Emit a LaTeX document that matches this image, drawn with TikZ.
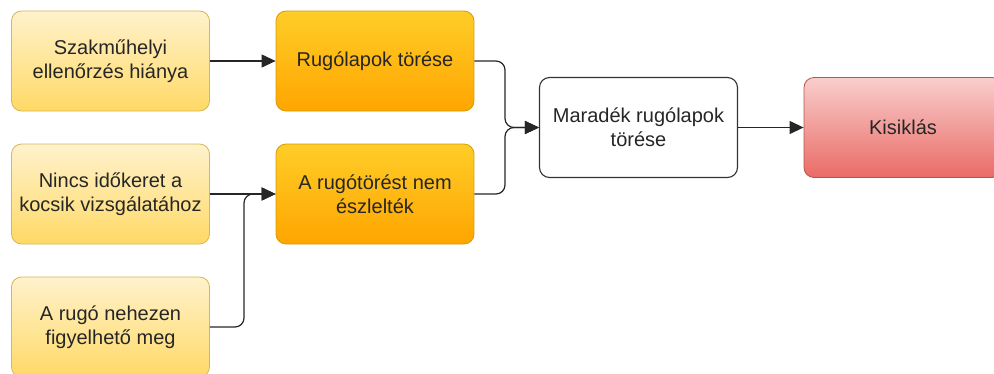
\documentclass[tikz,border=0pt]{standalone}
\usepackage{fontspec}
\setmainfont{Liberation Sans}
\usetikzlibrary{arrows.meta}
\definecolor{ylTop}{HTML}{FFF2CC}
\definecolor{ylBot}{HTML}{FFD966}
\definecolor{ylLine}{HTML}{D6B656}
\definecolor{orTop}{HTML}{FFCD28}
\definecolor{orBot}{HTML}{FFA500}
\definecolor{orLine}{HTML}{D79B00}
\definecolor{rdTop}{HTML}{F8CECC}
\definecolor{rdBot}{HTML}{EA6B66}
\definecolor{rdLine}{HTML}{B85450}
\tikzset{
  box/.style={rectangle, rounded corners=10pt, minimum width=198pt, minimum height=100pt,
    align=center, font=\fontsize{20pt}{24pt}\selectfont, text=black!85, line width=0.8pt, inner sep=2pt},
  cause/.style={box, draw=ylLine, top color=ylTop, bottom color=ylBot},
  mid/.style={box, draw=orLine, top color=orTop, bottom color=orBot},
  plain/.style={box, draw=black!80, fill=white, line width=1.1pt},
  result/.style={box, draw=rdLine, top color=rdTop, bottom color=rdBot},
  conn/.style={line width=1.2pt, black!85, rounded corners=9pt, -{Triangle[length=14pt,width=13pt]}}
}
\begin{document}
\begin{tikzpicture}[x=1pt,y=-1pt]
\useasboundingbox (0,0) rectangle (994,373);
\begin{scope}
\clip (0,0) rectangle (994,373);
\node[cause] (s1) at (110.5,61) {Szakműhelyi\\ellenőrzés hiánya};
\node[cause] (s2) at (110.5,194) {Nincs időkeret a\\kocsik vizsgálatához};
\node[cause] (s3) at (110.5,327) {A rugó nehezen\\figyelhető meg};
\node[mid] (m1) at (375,61) {Rugólapok törése};
\node[mid] (m2) at (375,194) {A rugótörést nem\\észlelték};
\node[plain] (r) at (638.5,127.5) {Maradék rugólapok\\törése};
\node[result] (k) at (903,127.5) {Kisiklás};
\end{scope}
\coordinate (j1) at (505,61);
\coordinate (j2) at (505,194);
\coordinate (jr) at (505,127.5);
\coordinate (v3) at (244,327);
\coordinate (v2) at (244,194);
\draw[conn] (s1.east) -- (m1.west);
\draw[conn] (s2.east) -- (m2.west);
\draw[conn] (s3.east) -- (v3) -- (v2) -- (m2.west);
\draw[conn] (m1.east) -- (j1) -- (jr) -- (r.west);
\draw[conn] (m2.east) -- (j2) -- (jr) -- (r.west);
\draw[conn] (r.east) -- (k.west);
\end{tikzpicture}
\end{document}
